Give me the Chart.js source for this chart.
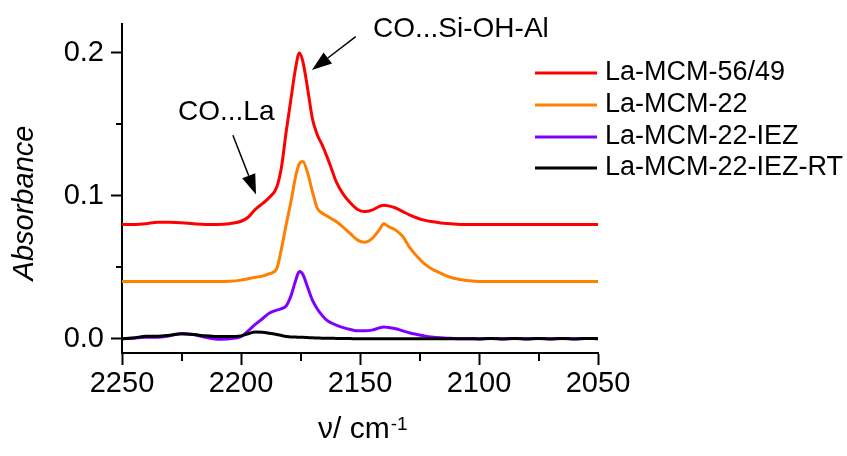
<!DOCTYPE html>
<html>
<head>
<meta charset="utf-8">
<script src="https://cdn.jsdelivr.net/npm/chart.js@4/dist/chart.umd.min.js"></script>
<style>
  body { margin: 0; background: #fff; }
  canvas { display: block; }
</style>
</head>
<body>
<canvas id="chart" width="847" height="456"></canvas>
<script>
// ! DATA
const wavenumbers = [
  2250, 2245, 2240, 2235, 2230, 2225, 2220, 2215, 2210, 2205,
  2200, 2197, 2194, 2191, 2188, 2185, 2183, 2181, 2179, 2177,
  2175.5, 2174, 2172, 2170, 2168, 2166, 2164, 2162, 2160, 2157,
  2154, 2151, 2148, 2145, 2142, 2140, 2138, 2135, 2132, 2129,
  2126, 2123, 2120, 2116, 2112, 2108, 2104, 2100, 2095, 2090,
  2085, 2080, 2075, 2070, 2065, 2060, 2055, 2050,
];

const mcm5649 = [
  0.080, 0.080, 0.0805, 0.0815, 0.0815, 0.0812, 0.0805, 0.080, 0.080, 0.0805,
  0.0822, 0.085, 0.0905, 0.0945, 0.099, 0.106, 0.120, 0.145, 0.168, 0.190,
  0.200, 0.194, 0.175, 0.154, 0.143, 0.136, 0.128, 0.119, 0.110, 0.101,
  0.095, 0.0905, 0.089, 0.090, 0.0925, 0.0935, 0.093, 0.0915, 0.089, 0.0865,
  0.0845, 0.083, 0.082, 0.081, 0.0805, 0.080, 0.080, 0.080, 0.080, 0.080,
  0.080, 0.080, 0.080, 0.080, 0.080, 0.080, 0.080, 0.080,
];

const mcm22 = [
  0.040, 0.040, 0.040, 0.040, 0.040, 0.040, 0.040, 0.040, 0.040, 0.0402,
  0.041, 0.042, 0.043, 0.0438, 0.0455, 0.049, 0.063, 0.080, 0.096, 0.114,
  0.1225, 0.124, 0.116, 0.103, 0.0915, 0.088, 0.086, 0.084, 0.082, 0.078,
  0.0735, 0.069, 0.0675, 0.070, 0.076, 0.0805, 0.0785, 0.076, 0.0715, 0.0635,
  0.0575, 0.0525, 0.049, 0.0458, 0.043, 0.0415, 0.0405, 0.040, 0.040, 0.040,
  0.040, 0.040, 0.040, 0.040, 0.040, 0.040, 0.040, 0.040,
];

const mcm22iez = [
  0.0, 0.0005, 0.001, 0.001, 0.002, 0.0035, 0.003, 0.001, -0.0003, 0.0,
  0.0015, 0.0055, 0.010, 0.014, 0.018, 0.020, 0.021, 0.023, 0.030, 0.041,
  0.047, 0.045, 0.036, 0.027, 0.021, 0.0165, 0.013, 0.011, 0.0095, 0.0078,
  0.0065, 0.0055, 0.0055, 0.006, 0.0075, 0.0082, 0.0078, 0.007, 0.0055, 0.004,
  0.003, 0.002, 0.0012, 0.0006, 0.0003, 0.0, 0.0, 0.0, 0.0002, 0.0,
  0.0002, 0.0, 0.0002, 0.0, 0.0002, 0.0, 0.0002, 0.0,
];

const mcm22iezrt = [
  0.0, 0.0005, 0.0018, 0.0018, 0.0025, 0.0035, 0.003, 0.002, 0.0015, 0.0015,
  0.002, 0.0035, 0.0047, 0.0045, 0.0038, 0.003, 0.0022, 0.0015, 0.0012, 0.0012,
  0.001, 0.001, 0.0008, 0.0006, 0.0005, 0.0004, 0.0003, 0.0003, 0.0002, 0.0002,
  0.0001, 0.0, 0.0, 0.0, 0.0, 0.0, 0.0, 0.0, 0.0, 0.0,
  0.0, 0.0, 0.0, 0.0, 0.0, 0.0, 0.0, -0.0002, 0.0002, -0.0002,
  0.0002, -0.0002, 0.0002, -0.0002, 0.0002, -0.0002, 0.0002, 0.0,
];

const seriesLabels = ["La-MCM-56/49", "La-MCM-22", "La-MCM-22-IEZ", "La-MCM-22-IEZ-RT"];
const seriesColors = ["#ff0000", "#ff8000", "#8000ff", "#000000"];

const xTicks = [2250, 2200, 2150, 2100, 2050];
const xMinorTicks = [2225, 2175, 2125, 2075];
const yTicks = [0.0, 0.1, 0.2];
const yMinorTicks = [0.05, 0.15];

const FONT = "'Liberation Sans', Arial, sans-serif";

const toPoints = (ys) => wavenumbers.map((x, i) => ({ x: x, y: ys[i] }));
const allSeries = [mcm5649, mcm22, mcm22iez, mcm22iezrt];

// ! EXTRA DRAWING: minor ticks, titles, annotations, legend
const extras = {
  id: "extras",
  afterDraw(chart) {
    const ctx = chart.ctx;
    const xs = chart.scales.x;
    const ys = chart.scales.y;
    const area = chart.chartArea;

    ctx.save();
    ctx.strokeStyle = "#000";
    ctx.lineWidth = 2;
    yMinorTicks.forEach((v) => {
      const py = Math.round(ys.getPixelForValue(v));
      ctx.beginPath();
      ctx.moveTo(area.left - 6, py);
      ctx.lineTo(area.left, py);
      ctx.stroke();
    });
    xMinorTicks.forEach((v) => {
      const px = Math.round(xs.getPixelForValue(v));
      ctx.beginPath();
      ctx.moveTo(px, area.bottom);
      ctx.lineTo(px, area.bottom + 8);
      ctx.stroke();
    });

    // axis titles
    ctx.fillStyle = "#000";
    ctx.textBaseline = "alphabetic";
    ctx.textAlign = "left";
    ctx.font = "30px " + FONT;
    const main = "\u03bd/ cm";
    const w = ctx.measureText(main).width;
    ctx.fillText(main, 318, 438);
    ctx.font = "19px " + FONT;
    ctx.fillText("-1", 318 + w + 1, 430);

    ctx.save();
    ctx.translate(33, 203);
    ctx.rotate(-Math.PI / 2);
    ctx.textAlign = "center";
    ctx.font = "italic 29px " + FONT;
    ctx.fillText("Absorbance", 0, 0);
    ctx.restore();

    // annotations
    const arrow = (x1, y1, x2, y2) => {
      const ax = xs.getPixelForValue(x1), ay = ys.getPixelForValue(y1);
      const bx = xs.getPixelForValue(x2), by = ys.getPixelForValue(y2);
      const a = Math.atan2(by - ay, bx - ax);
      const len = 20, hw = 7;
      const cx = bx - len * Math.cos(a), cy = by - len * Math.sin(a);
      ctx.lineWidth = 1.5;
      ctx.beginPath();
      ctx.moveTo(ax, ay);
      ctx.lineTo(cx, cy);
      ctx.stroke();
      ctx.beginPath();
      ctx.moveTo(bx, by);
      ctx.lineTo(cx - hw * Math.sin(a), cy + hw * Math.cos(a));
      ctx.lineTo(cx + hw * Math.sin(a), cy - hw * Math.cos(a));
      ctx.closePath();
      ctx.fill();
    };
    ctx.font = "28px " + FONT;
    ctx.textAlign = "left";
    ctx.fillText("CO...Si-OH-Al", 373, 37);
    arrow(2151.8, 0.2114, 2170.2, 0.188);
    ctx.fillText("CO...La", 178, 120);
    arrow(2203.4, 0.1424, 2193.7, 0.101);

    // legend
    ctx.font = "27px " + FONT;
    ctx.textBaseline = "middle";
    const rows = [73, 105, 137, 168];
    seriesLabels.forEach((label, i) => {
      ctx.strokeStyle = seriesColors[i];
      ctx.lineWidth = 3;
      ctx.beginPath();
      ctx.moveTo(535, rows[i]);
      ctx.lineTo(597, rows[i]);
      ctx.stroke();
      ctx.fillStyle = "#000";
      ctx.fillText(label, 605, rows[i]);
    });
    ctx.restore();
  },
};

// ! CHART
const ctx = document.querySelector("#chart").getContext("2d");
new Chart(ctx, {
  type: "line",
  data: {
    datasets: allSeries.map((ys, i) => ({
      label: seriesLabels[i],
      data: toPoints(ys),
      borderColor: seriesColors[i],
      borderWidth: 3,
      pointRadius: 0,
      cubicInterpolationMode: "monotone",
      fill: false,
      order: i === 3 ? 0 : i + 1,
    })),
  },
  options: {
    responsive: false,
    animation: false,
    devicePixelRatio: 1,
    layout: { padding: { top: 20, right: 249, left: 0, bottom: 0 } },
    plugins: {
      legend: { display: false },
      tooltip: { enabled: false },
    },
    scales: {
      x: {
        type: "linear",
        reverse: true,
        min: 2050,
        max: 2250,
        afterBuildTicks: (axis) => {
          axis.ticks = xTicks.map((v) => ({ value: v }));
        },
        afterFit: (axis) => {
          axis.height = 103;
        },
        border: { display: true, color: "#000", width: 2 },
        grid: {
          drawOnChartArea: false,
          drawTicks: true,
          tickLength: 12,
          tickWidth: 2,
          tickColor: "#000",
        },
        ticks: {
          color: "#000",
          font: { family: FONT, size: 29 },
          padding: 2,
          maxRotation: 0,
          autoSkip: false,
          callback: (v) => String(v),
        },
      },
      y: {
        type: "linear",
        min: -0.01,
        max: 0.22,
        afterBuildTicks: (axis) => {
          axis.ticks = yTicks.map((v) => ({ value: v }));
        },
        afterFit: (axis) => {
          axis.width = 122;
        },
        border: { display: true, color: "#000", width: 2 },
        grid: {
          drawOnChartArea: false,
          drawTicks: true,
          tickLength: 11,
          tickWidth: 2,
          tickColor: "#000",
        },
        ticks: {
          color: "#000",
          font: { family: FONT, size: 29 },
          padding: 7,
          autoSkip: false,
          callback: (v) => v.toFixed(1),
        },
      },
    },
  },
  plugins: [extras],
});
</script>
</body>
</html>
